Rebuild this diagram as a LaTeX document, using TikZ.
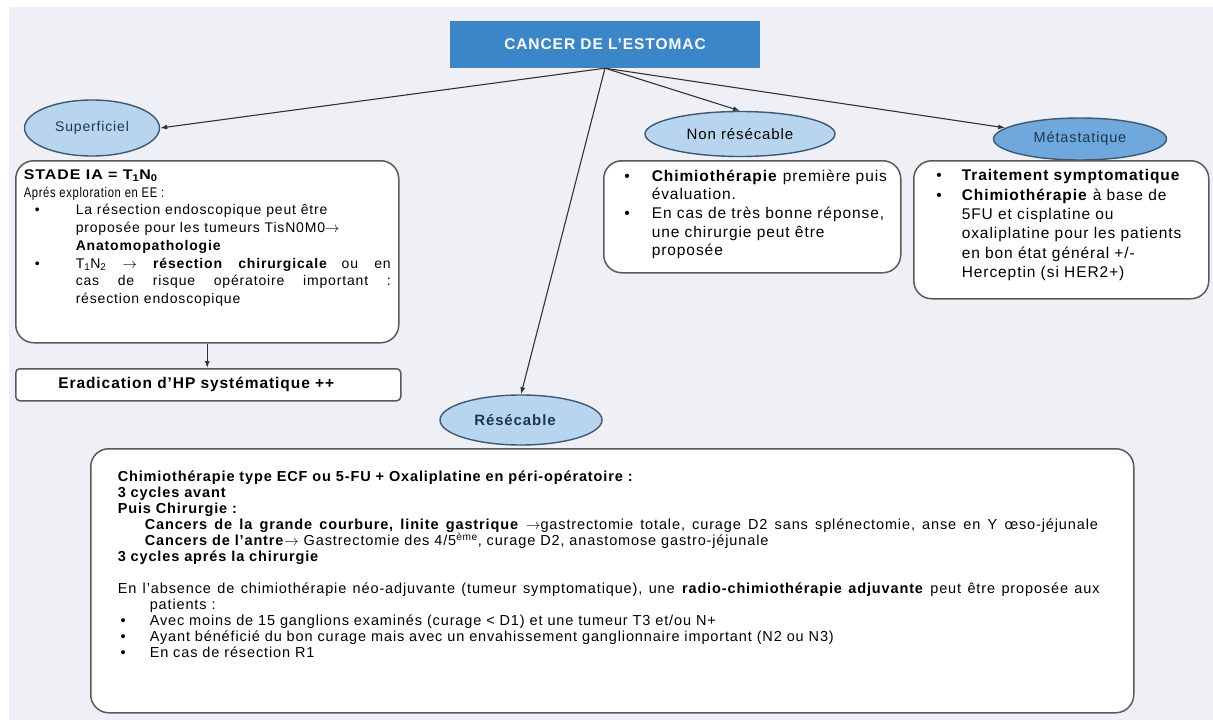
\documentclass[tikz,border=0pt]{standalone}
\usepackage{fontspec}
\setmainfont{Liberation Sans}[LetterSpace=6.0]
\usepackage{enumitem}
\usetikzlibrary{shapes.geometric,arrows.meta}

\definecolor{bggrey}{HTML}{EFF0F5}
\definecolor{titleblue}{HTML}{3A86C8}
\definecolor{lightblue}{HTML}{B7D5EE}
\definecolor{metablue}{HTML}{6FA8DC}
\definecolor{ellborder}{HTML}{3F5873}
\definecolor{navytext}{HTML}{1F3550}
\definecolor{boxgrey}{HTML}{5A5A5A}
\definecolor{linegrey}{HTML}{333333}

\setlist[itemize]{label=\textbullet,topsep=0pt,itemsep=0pt,parsep=0pt,partopsep=0pt}
\newcommand{\toarrow}{\ensuremath{\rightarrow}}

\begin{document}
\begin{tikzpicture}[x=1pt,y=-1pt,
  titlebox/.style={rectangle,fill=titleblue,text=white,font=\bfseries\fontsize{15.5}{18}\selectfont,minimum width=310pt,minimum height=47pt},
  branch/.style={ellipse,draw=ellborder,line width=1.4pt,fill=lightblue,text=navytext,inner sep=0pt},
  infobox/.style={rectangle,rounded corners=18pt,draw=boxgrey,line width=1.5pt,fill=white,anchor=north west,inner xsep=8pt,inner ysep=9pt},
  flatbox/.style={rectangle,rounded corners=4pt,draw=boxgrey,line width=1.5pt,fill=white,anchor=north west,inner sep=0pt},
  arrow/.style={-{Latex[length=7pt,width=5pt]},line width=1.1pt,draw=linegrey}
]
  \useasboundingbox (0,0) rectangle (1213,720);
  \fill[bggrey] (9,7) rectangle (1213,720);

  % title and branches
  \node[titlebox] (cancer) at (605,44.5) {CANCER DE L'ESTOMAC};
  \node[branch,minimum width=135pt,minimum height=56pt,font=\fontsize{14}{16}\selectfont] (superf) at (92,128) {Superficiel};
  \node[branch,minimum width=190pt,minimum height=45pt,text=black,font=\fontsize{15}{17}\selectfont] (nonres) at (740,134) {Non résécable};
  \node[branch,fill=metablue,minimum width=173pt,minimum height=42pt,font=\fontsize{14.5}{16}\selectfont] (meta) at (1080,139) {Métastatique};
  \node[branch,minimum width=162pt,minimum height=50pt,font=\bfseries\fontsize{15}{17}\selectfont] (resec) at (521,420) {Résécable\hspace*{12pt}};

  % boxes
  \node[infobox] (supbox) at (15,160) {\begin{minipage}[t][164pt][t]{367pt}\fontsize{14}{17.7}\selectfont
    \scalebox{1.14}[1]{\textbf{STADE IA = T\textsubscript{1}N\textsubscript{0}}}\\
    \scalebox{0.8}[1]{Aprés exploration en EE :}
    \begin{itemize}[leftmargin=52pt,labelsep=36pt]
      \item La résection endoscopique peut être\newline proposée pour les tumeurs TisN0M0\toarrow\newline\textbf{Anatomopathologie}
      \item \makebox[\linewidth][s]{T\textsubscript{1}N\textsubscript{2} \toarrow{} \textbf{résection chirurgicale}\quad ou en}\newline
            \makebox[\linewidth][s]{cas de risque opératoire important :}\newline
            résection endoscopique
    \end{itemize}
  \end{minipage}};
  \node[flatbox,minimum width=385pt,minimum height=32pt,font=\bfseries\fontsize{15.5}{17}\selectfont] (erad) at (15,368) {Eradication d'HP systématique ++\hspace*{24pt}};

  \node[infobox] (nonbox) at (603,160) {\begin{minipage}[t][94pt][t]{281pt}\fontsize{15.5}{18.7}\selectfont
    \begin{itemize}[leftmargin=40pt,labelsep=22pt]
      \item \textbf{Chimiothérapie} première puis\newline évaluation.
      \item En cas de très bonne réponse,\newline une chirurgie peut être\newline proposée
    \end{itemize}
  \end{minipage}};

  \node[infobox] (metabox) at (913,160) {\begin{minipage}[t][120pt][t]{279pt}\fontsize{15.5}{19.3}\selectfont
    \begin{itemize}[leftmargin=40pt,labelsep=20pt]
      \item \textbf{Traitement symptomatique}
      \item \textbf{Chimiothérapie} à base de\newline 5FU et cisplatine ou\newline oxaliplatine pour les patients\newline en bon état général +/-\newline Herceptin (si HER2+)
    \end{itemize}
  \end{minipage}};

  \node[infobox,inner xsep=27pt,inner ysep=22pt] (resbox) at (90,448) {\begin{minipage}[t][220pt][t]{989pt}\fontsize{14.5}{16}\selectfont
    \textbf{Chimiothérapie type ECF ou 5-FU + Oxaliplatine en péri-opératoire :}\\
    \textbf{3 cycles avant}\\
    \textbf{Puis Chirurgie :}\\
    {\spaceskip=7.2pt\hspace*{27pt}\textbf{Cancers de la grande courbure, linite gastrique} \toarrow gastrectomie totale, curage D2 sans splénectomie, anse en Y œso-jéjunale}\\
    \hspace*{27pt}\textbf{Cancers de l'antre}\toarrow{} Gastrectomie des 4/5\textsuperscript{ème}, curage D2, anastomose gastro-jéjunale\\
    \textbf{3 cycles aprés la chirurgie}\\[16pt]
    {\spaceskip=6.4pt En l'absence de chimiothérapie néo-adjuvante (tumeur symptomatique), une \textbf{radio-chimiothérapie adjuvante} peut être proposée aux}\\
    \hspace*{32pt}patients :
    \begin{itemize}[leftmargin=32pt,labelsep=24pt]
      \item Avec moins de 15 ganglions examinés (curage < D1) et une tumeur T3 et/ou N+
      \item Ayant bénéficié du bon curage mais avec un envahissement ganglionnaire important (N2 ou N3)
      \item En cas de résection R1
    \end{itemize}
  \end{minipage}};

  % connectors
  \draw[arrow] (cancer.south) -- (superf.east);
  \draw[arrow] (cancer.south) -- (nonres.north);
  \draw[arrow] (cancer.south) -- (meta);
  \draw[arrow] (cancer.south) -- (resec.north);
  \draw[arrow] (supbox.south) -- (supbox.south |- erad.north);
\end{tikzpicture}
\end{document}
